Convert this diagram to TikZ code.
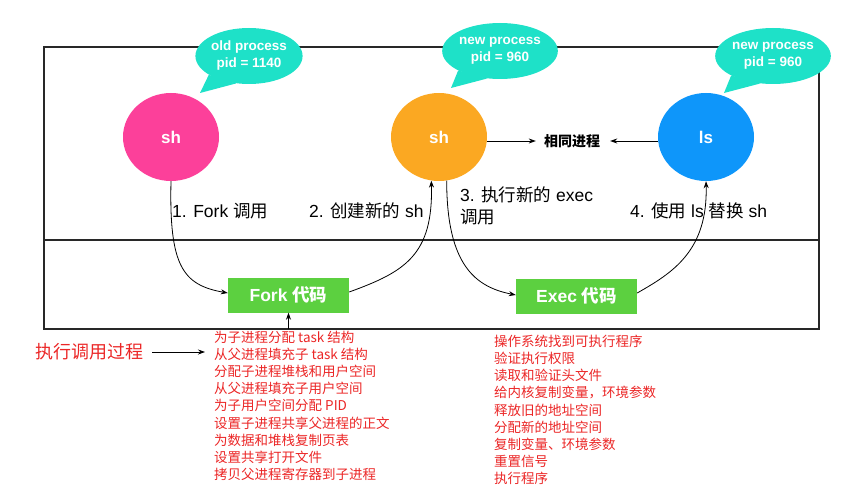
\documentclass[tikz,border=0pt]{standalone}
\usepackage{fontspec}
\setmainfont{Liberation Sans}
\newfontfamily\cjk{Noto Sans CJK SC}
\usetikzlibrary{shapes.geometric,arrows.meta}
\definecolor{pinkc}{RGB}{252,64,154}
\definecolor{orangec}{RGB}{251,168,34}
\definecolor{bluec}{RGB}{14,150,250}
\definecolor{bubblec}{RGB}{30,225,200}
\definecolor{greenc}{RGB}{92,208,64}
\definecolor{redc}{RGB}{235,38,38}
\definecolor{linec}{RGB}{40,40,40}
\tikzset{
  proc/.style={ellipse,minimum width=96pt,minimum height=88pt,inner sep=0pt,text=white,font=\fontsize{17}{20}\selectfont\bfseries},
  bubble/.style={ellipse,fill=bubblec,minimum width=100pt,minimum height=56pt,inner sep=0pt,text=white,align=center,font=\fontsize{13.5}{17}\selectfont\bfseries},
  codebox/.style={rectangle,fill=greenc,minimum width=121pt,minimum height=35pt,inner sep=0pt,text=white,font=\fontsize{17.5}{20}\selectfont\bfseries},
  lbl/.style={inner sep=0pt,anchor=base west,font=\fontsize{17.5}{22}\selectfont},
  redlist/.style={inner sep=0pt,anchor=north west,align=left,text=redc,font=\cjk\fontsize{13.5}{17.1}\selectfont},
  conn/.style={draw=black,line width=0.8pt,-{Stealth[length=7pt,width=5pt]}},
  frame/.style={draw=linec,line width=1.4pt}
}
\begin{document}
\begin{tikzpicture}[x=1pt,y=-1pt]
\useasboundingbox (0,0) rectangle (859,500);
% frame
\coordinate (boxNW) at (44,47);
\coordinate (boxSE) at (819,329);
\draw[frame] (boxNW) rectangle (boxSE);
\coordinate (divL) at (44,240);
\coordinate (divR) at (819,240);
\draw[frame] (divL) -- (divR);
% process circles
\node[proc,fill=pinkc] (p1) at (171,137) {sh};
\node[proc,fill=orangec] (p2) at (439,137) {sh};
\node[proc,fill=bluec] (p3) at (706,137) {ls};
% bubbles
\coordinate (t1) at (200,93);
\coordinate (t2) at (451,88);
\coordinate (t3) at (724,93);
\node[bubble] (b1) at (249,56) {old process\\pid = 1140};
\node[bubble] (b2) at (500,51) {new process\\pid = 960};
\node[bubble] (b3) at (773,56) {new process\\pid = 960};
\fill[bubblec] (b1.205) -- (t1) -- (b1.245) -- cycle;
\fill[bubblec] (b2.205) -- (t2) -- (b2.245) -- cycle;
\fill[bubblec] (b3.205) -- (t3) -- (b3.245) -- cycle;
% same process
\node[inner sep=0pt,font=\cjk\fontsize{14}{16}\selectfont\bfseries] (same) at (572,141) {相同进程};
\draw[conn] (p2.east |- same) -- ([xshift=-8pt]same.west);
\draw[conn] (p3.west |- same) -- ([xshift=10pt]same.east);
% code boxes
\node[codebox] (fork) at (288.5,295) {Fork {\cjk\bfseries 代码}};
\node[codebox] (exec) at (576.5,296) {Exec {\cjk\bfseries 代码}};
% curves
\draw[conn] (p1.south) .. controls +(-2,85) and +(-45,-8) .. ([yshift=2pt]fork.west);
\draw[conn] ([yshift=3pt]fork.east) .. controls +(55,-20) and +(2,75) .. (p2.-100);
\draw[conn] (p2.-80) .. controls +(0,85) and +(-40,-8) .. ([yshift=1pt]exec.west);
\draw[conn] ([yshift=3pt]exec.east) .. controls +(35,-20) and +(2,70) .. (p3.south);
% step labels
\node[lbl] (l1) at (172,217) {1. Fork {\cjk 调用}};
\node[lbl] (l2) at (309,217) {2. {\cjk 创建新的} sh};
\node[lbl,align=left,anchor=north west] (l3) at (460,187) {3. {\cjk 执行新的} exec\\{\cjk 调用}};
\node[lbl] (l4) at (630,217) {4. {\cjk 使用} ls {\cjk 替换} sh};
% red process
\node[inner sep=0pt,anchor=west,text=redc,font=\cjk\fontsize{18}{20}\selectfont] (call) at (35,352) {执行调用过程};
\node[redlist] (forklist) at (214,331) {为子进程分配 task 结构\\从父进程填充子 task 结构\\分配子进程堆栈和用户空间\\从父进程填充子用户空间\\为子用户空间分配 PID\\设置子进程共享父进程的正文\\为数据和堆栈复制页表\\设置共享打开文件\\拷贝父进程寄存器到子进程};
\node[redlist] (execlist) at (494,335) {操作系统找到可执行程序\\验证执行权限\\读取和验证头文件\\给内核复制变量，环境参数\\释放旧的地址空间\\分配新的地址空间\\复制变量、环境参数\\重置信号\\执行程序};
\draw[conn] ([xshift=9pt]call.east) -- ([xshift=-9pt]call.east -| forklist.west);
\draw[conn] (fork.south |- boxSE) -- (fork.south);
\end{tikzpicture}
\end{document}
